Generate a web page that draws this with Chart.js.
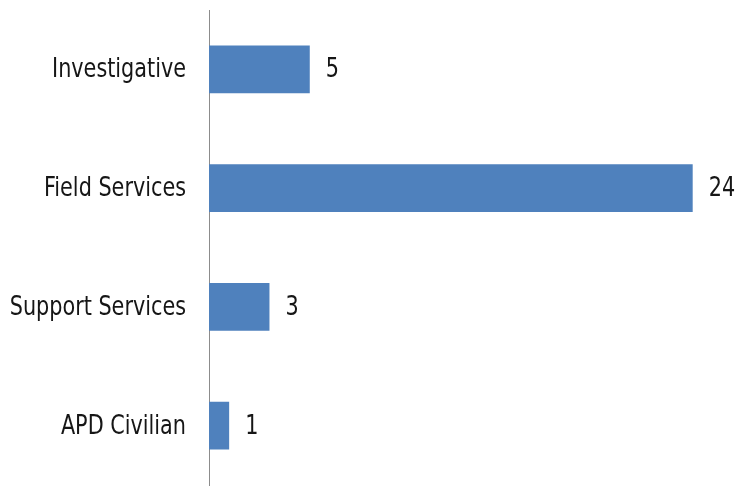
<!DOCTYPE html>
<html>
<head>
<meta charset="utf-8">
<script src="https://cdn.jsdelivr.net/npm/chart.js@4/dist/chart.umd.min.js"></script>
<style>
  html, body { margin: 0; padding: 0; background: #fff; }
  #wrap { width: 739px; height: 487px; }
</style>
</head>
<body>
<div id="wrap"><canvas id="grafico"></canvas></div>
<script>
const categorias = ['Investigative', 'Field Services', 'Support Services', 'APD Civilian'];
const valores = [5, 24, 3, 1];

const fuente = '27px "DejaVu Sans Condensed", "DejaVu Sans", sans-serif';
const estrecho = 0.855; // la letra se dibuja comprimida en horizontal

function textoEstrecho(ctx, texto, x, y, alinear) {
  ctx.save();
  ctx.translate(x, y);
  ctx.scale(estrecho, 1);
  ctx.textAlign = alinear;
  ctx.fillText(texto, 0, 0);
  ctx.restore();
}

// nombres de categoria a la izquierda y numero a la derecha de cada barra
const etiquetas = {
  id: 'etiquetas',
  afterDatasetsDraw(chart) {
    const ctx = chart.ctx;
    const meta = chart.getDatasetMeta(0);
    const ejeY = chart.scales.y;
    ctx.save();
    ctx.font = fuente;
    ctx.fillStyle = '#161616';
    ctx.textBaseline = 'middle';
    meta.data.forEach((bar, i) => {
      textoEstrecho(ctx, chart.data.labels[i], ejeY.right - 23, bar.y + 1, 'right');
      textoEstrecho(ctx, String(chart.data.datasets[0].data[i]), bar.x + 16, bar.y + 1, 'left');
    });
    ctx.restore();
  }
};

new Chart(document.getElementById('grafico'), {
  type: 'bar',
  data: {
    labels: categorias,
    datasets: [{
      data: valores,
      backgroundColor: '#4f81bd',
      borderWidth: 0,
      categoryPercentage: 1,
      barPercentage: 0.404
    }]
  },
  options: {
    indexAxis: 'y',
    responsive: true,
    maintainAspectRatio: false,
    animation: false,
    layout: { padding: { top: 10, bottom: 2, left: 0, right: 6 } },
    plugins: { legend: { display: false }, tooltip: { enabled: false } },
    scales: {
      x: {
        display: false,
        min: 0,
        max: 26
      },
      y: {
        afterFit(scale) {
          scale.width = 209;
          scale.paddingTop = 0;
          scale.paddingBottom = 0;
        },
        grid: { display: false, drawTicks: false },
        border: { display: true, color: '#8c8c8c', width: 1 },
        ticks: { display: false }
      }
    }
  },
  plugins: [etiquetas]
});
</script>
</body>
</html>
